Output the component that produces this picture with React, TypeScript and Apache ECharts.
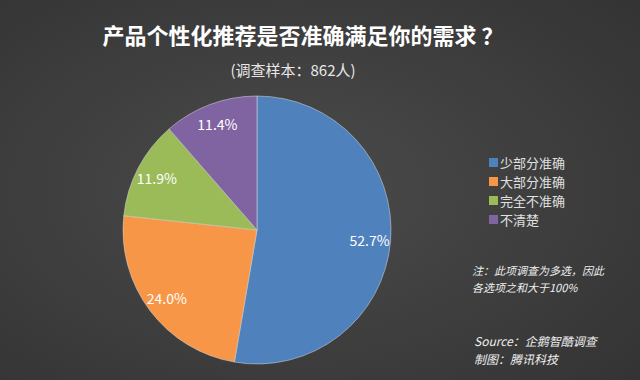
import React, { useEffect, useRef } from "react";
import * as echarts from "echarts";

const categories = ["少部分准确", "大部分准确", "完全不准确", "不清楚"];
const values = [52.7, 24.0, 11.9, 11.4];
const colors = ["#4F81BD", "#F79646", "#9BBB59", "#8064A2"];
const titleText = "产品个性化推荐是否准确满足你的需求 ？";
const subtitleText = "(调查样本：862人)";
const noteLines = ["注：此项调查为多选，因此", "各选项之和大于100%"];
const sourceLines = ["Source：企鹅智酷调查", "制图：腾讯科技"];

export default function App() {
  const ref = useRef<HTMLDivElement>(null);
  useEffect(() => {
    if (!ref.current) return;
    const chart = echarts.init(ref.current, null, { renderer: "svg" });
    const data = categories.map((name, i) => ({
      name,
      value: values[i],
      itemStyle: { color: colors[i] },
    }));
    const font = "'Microsoft YaHei', 'Noto Sans CJK SC', sans-serif";
    chart.setOption({
      animation: false,
      backgroundColor: {
        type: "radial",
        x: 0.45,
        y: 0.5,
        r: 0.75,
        colorStops: [
          { offset: 0, color: "#4b4b4b" },
          { offset: 1, color: "#333333" },
        ],
      },
      title: [
        {
          text: titleText,
          left: 298,
          top: 18,
          textAlign: "center",
          textStyle: { color: "#ffffff", fontSize: 22, fontWeight: "bold", fontFamily: font },
        },
        {
          text: subtitleText,
          left: 288,
          top: 57,
          textAlign: "center",
          textStyle: { color: "#e8e8e8", fontSize: 15, fontWeight: "normal", fontFamily: font },
        },
      ],
      legend: {
        orient: "vertical",
        left: 484,
        top: 151,
        itemWidth: 9,
        itemHeight: 9,
        itemGap: 6,
        icon: "rect",
        data: categories,
        itemStyle: { borderWidth: 0 },
        textStyle: { color: "#e0e0e0", fontSize: 13, fontFamily: font, padding: [0, 0, 0, -3] },
      },
      graphic: [
        ...noteLines.map((t, i) => ({
          type: "text",
          left: 472,
          top: 264 + i * 17,
          style: { text: t, fill: "#eeeeee", font: `italic 11px ${font}` },
        })),
        ...sourceLines.map((t, i) => ({
          type: "text",
          left: 474,
          top: 334 + i * 18,
          style: { text: t, fill: "#eeeeee", font: `italic 12px ${font}` },
        })),
      ],
      series: [
        {
          type: "pie",
          center: [257, 230],
          radius: [0, 134],
          startAngle: 90,
          clockwise: true,
          data,
          label: { show: false },
          labelLine: { show: false },
          itemStyle: { borderColor: "#dddddd", borderWidth: 0.5 },
          silent: true,
        },
        {
          type: "pie",
          center: [257, 230],
          radius: [86, 134],
          startAngle: 90,
          clockwise: true,
          data: categories.map((name, i) => ({ name, value: values[i] })),
          itemStyle: { color: "rgba(0,0,0,0)" },
          label: {
            show: true,
            position: "inside",
            formatter: (p: any) => `${p.value.toFixed(1)}%`,
            color: "#ffffff",
            fontSize: 14,
            fontFamily: font,
          },
          labelLine: { show: false },
          legendHoverLink: false,
          silent: true,
        },
      ],
    });
    return () => chart.dispose();
  }, []);
  return (
    <div
      ref={ref}
      style={{ position: "absolute", left: 0, top: 0, width: 640, height: 380 }}
    />
  );
}
